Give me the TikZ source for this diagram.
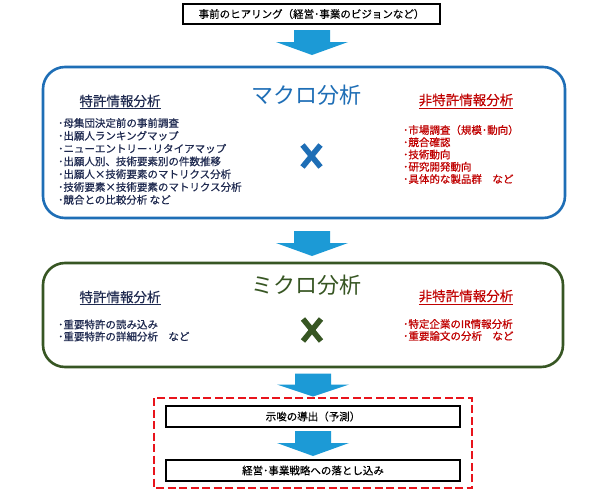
\documentclass[tikz,border=0pt]{standalone}
\usepackage{fontspec}
\setmainfont{Noto Sans CJK JP}
\newfontfamily\jpheavy{Noto Sans CJK JP}[FakeBold=0.6]
\newfontfamily\jpmid{Noto Sans CJK JP}[FakeBold=0.3]
\definecolor{macroblue}{HTML}{1E6EB6}
\definecolor{arrowblue}{HTML}{1C9AD6}
\definecolor{microgreen}{HTML}{375623}
\definecolor{nonred}{HTML}{C00000}
\definecolor{navy}{HTML}{1F2A50}
\definecolor{dashred}{HTML}{E8141C}
\tikzset{
  flowbox/.style={draw=black, line width=1.7pt, minimum width=257pt, minimum height=20pt, inner sep=0pt, font=\jpmid\fontsize{10.5}{12}\selectfont},
  innerbox/.style={draw=black, line width=1.5pt, minimum width=294pt, minimum height=21pt, inner sep=0pt, font=\jpmid\fontsize{10.5}{12}\selectfont},
  panel/.style={line width=2.6pt, rounded corners=22pt},
  bigtitle/.style={inner sep=0pt, font=\fontsize{22}{24}\selectfont},
  heading/.style={inner sep=0pt, font=\jpmid\fontsize{13.5}{15}\selectfont},
  listL/.style={inner sep=0pt, anchor=west, text=navy, font=\jpheavy\fontsize{10.5}{12}\selectfont},
  listR/.style={inner sep=0pt, anchor=west, text=nonred, font=\jpheavy\fontsize{10.5}{12}\selectfont},
  crossmark/.style={line width=5.5pt},
  downarrow/.pic={\fill[arrowblue] (-18,0) -- (18,0) -- (18,12) -- (36,12) -- (0,25) -- (-36,12) -- (-18,12) -- cycle;}
}
\begin{document}
\begin{tikzpicture}[x=1pt,y=-1pt]
\useasboundingbox[fill=white] (0,0) rectangle (616,498);

% top box
\node[flowbox] (hear) at (311.5,14) {事前のヒアリング（経営･事業のビジョンなど）};
\pic at (312,30) {downarrow};

% macro panel
\draw[panel, draw=macroblue] (43,67) rectangle (565,218);
\node[bigtitle, text=macroblue] (macro) at (306,95) {マクロ分析};
\node[heading, text=navy] (pL1) at (120,102) {\underline{特許情報分析}};
\node[heading, text=nonred] (pR1) at (466,101) {\underline{非特許情報分析}};
\foreach \t [count=\i] in {{･母集団決定前の事前調査},{･出願人ランキングマップ},{･ニューエントリー･リタイアマップ},{･出願人別、技術要素別の件数推移},{･出願人×技術要素のマトリクス分析},{･技術要素×技術要素のマトリクス分析},{･競合との比較分析 など}}
  \node[listL] (ml\i) at (58,{123+12.8*(\i-1)}) {\t};
\foreach \t [count=\i] in {{･市場調査（規模･動向）},{･競合確認},{･技術動向},{･研究開発動向},{･具体的な製品群\quad など}}
  \node[listR] (mr\i) at (403,{130+12.25*(\i-1)}) {\t};
\coordinate (xm) at (311.5,156);
\draw[crossmark, macroblue] ([shift={(-9,-11)}]xm) -- ([shift={(9,11)}]xm);
\draw[crossmark, macroblue] ([shift={(9,-11)}]xm) -- ([shift={(-9,11)}]xm);

\pic at (312,231) {downarrow};

% micro panel
\draw[panel, draw=microgreen] (43,263) rectangle (563,367);
\node[bigtitle, text=microgreen] (micro) at (306,285) {ミクロ分析};
\node[heading, text=navy] (pL2) at (120,298) {\underline{特許情報分析}};
\node[heading, text=nonred] (pR2) at (466,297) {\underline{非特許情報分析}};
\node[listL] (sl1) at (58,324.5) {･重要特許の読み込み};
\node[listL] (sl2) at (58,336.5) {･重要特許の詳細分析\quad など};
\node[listR] (sr1) at (403,324) {･特定企業のIR情報分析};
\node[listR] (sr2) at (403,336) {･重要論文の分析\quad など};
\coordinate (xs) at (312,330);
\draw[crossmark, microgreen] ([shift={(-9,-11)}]xs) -- ([shift={(9,11)}]xs);
\draw[crossmark, microgreen] ([shift={(9,-11)}]xs) -- ([shift={(-9,11)}]xs);

\pic[yscale=0.92] at (313,373.5) {downarrow};

% dashed group
\draw[dashred, line width=2.5pt, dash pattern=on 8pt off 3.5pt] (154,398) rectangle (472,488);
\node[innerbox] (pred) at (313,416.5) {示唆の導出（予測）};
\pic at (313,431) {downarrow};
\node[innerbox] (strat) at (313,470.5) {経営･事業戦略への落とし込み};
\end{tikzpicture}
\end{document}
